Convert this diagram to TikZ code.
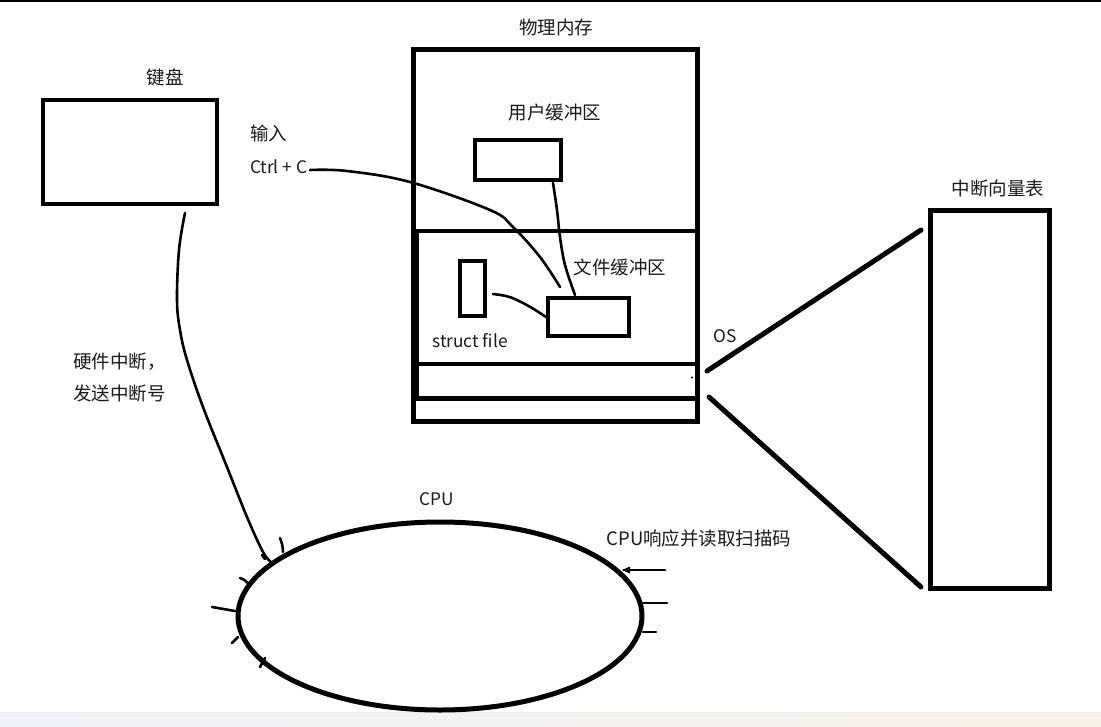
\documentclass[tikz,border=0pt]{standalone}
\usepackage{fontspec}
\setmainfont{Noto Sans CJK SC}
\usetikzlibrary{shapes.geometric}
\definecolor{txt}{HTML}{1A1A1A}
\definecolor{bandL}{RGB}{239,242,250}
\definecolor{bandR}{RGB}{249,241,230}
\tikzset{
  box/.style={draw=black, rectangle, inner sep=0pt, fill=white},
  lbl/.style={text=txt, inner sep=0pt, font=\fontsize{18.5}{22}\selectfont},
  latin/.style={text=txt, inner sep=0pt, font=\fontsize{17.3}{21}\selectfont},
  wire/.style={draw=black, line width=2.6pt, line cap=round, line join=round},
  heavy/.style={draw=black, line width=5pt, line cap=round},
  tick/.style={draw=black, line width=2.6pt, line cap=round},
}
\begin{document}
\begin{tikzpicture}[x=1pt,y=-1pt]
\useasboundingbox (0,0) rectangle (1101,726);
\fill[white] (0,0) rectangle (1101,726);
% top rule and bottom band
\fill[black] (0,0) rectangle (1101,1.8);
\shade[left color=bandL, right color=bandR] (0,712) rectangle (1101,726);
\draw[color=black!8, line width=0.8pt] (0,712.4) -- (1101,712.4);
\draw[color=black!5, line width=0.8pt] (81,715) -- (81,726);

% keyboard
\node[box, line width=4pt, minimum width=174pt, minimum height=104pt] (kb) at (130,152) {};
\node[lbl] (kbl) at (165,77) {键盘};

% physical memory
\node[box, line width=5pt, minimum width=284pt, minimum height=372pt] (mem) at (555,235) {};
\node[lbl] (meml) at (556,27) {物理内存};
\draw[line width=4pt] (mem.west |- 0,231) coordinate (d1w) -- (mem.east |- 0,231) coordinate (d1e);
\draw[line width=4pt] (mem.west |- 0,364) coordinate (d2w) -- (mem.east |- 0,364) coordinate (d2e);
\draw[line width=5pt] (mem.west |- 0,398) coordinate (d3w) -- (mem.east |- 0,398) coordinate (d3e);
\draw[line width=4pt] (417,229) -- (417,400);
\fill[black] (692,377.5) circle (1.2pt);

\node[lbl] (ubl) at (555,112) {用户缓冲区};
\node[box, line width=4pt, minimum width=86pt, minimum height=40pt] (ub) at (518,160) {};
\node[box, line width=4pt, minimum width=25pt, minimum height=55pt] (sf) at (472.5,288.5) {};
\node[latin] (sfl) at (470,341) {struct file};
\node[box, line width=4pt, minimum width=81pt, minimum height=38pt] (fb) at (588.5,317) {};
\node[lbl] (fbl) at (620,267) {文件缓冲区};

% input labels
\node[lbl, anchor=west] (inl) at (250,133) {输入};
\node[latin, anchor=west] (ctl) at (250,167) {Ctrl + C};

% connectors inside memory
\coordinate (c0) at (310,170);
\coordinate (c1) at (560,287);
\draw[wire] plot[smooth, tension=0.6] coordinates {(c0) (347,171) (410,182) (490,210) (513,227) (540,257) (c1)};
\coordinate (u0) at (553,183);
\coordinate (u1) at (575,295);
\draw[wire] plot[smooth, tension=0.6] coordinates {(u0) (557,210) (560,237) (565,265) (u1)};
\coordinate (s0) at (493,294);
\draw[wire] plot[smooth, tension=0.6] coordinates {(s0) (506,296) (517,300) (532,308) (fb.west)};

% interrupt vector table
\node[box, line width=5pt, minimum width=119pt, minimum height=378pt] (ivt) at (989.5,399) {};
\node[lbl] (ivtl) at (998,188) {中断向量表};
\node[latin] (osl) at (725,336) {OS};
\coordinate (t1a) at (707,371);
\coordinate (t1b) at (921,230);
\coordinate (t2a) at (709,397);
\coordinate (t2b) at (921,587);
\draw[heavy] (t1a) -- (t1b);
\draw[heavy] (t2a) -- (t2b);

% CPU
\node[draw=black, ellipse, line width=5pt, inner sep=0pt, minimum width=404pt, minimum height=188pt] (cpu) at (440,616) {};
\node[latin] (cpul) at (437,499) {CPU};
\node[lbl] (cpur) at (699,538) {CPU响应并读取扫描码};

% keyboard -> CPU
\coordinate (k0) at (185,213);
\coordinate (k1) at (272,563);
\draw[wire] plot[smooth, tension=0.6] coordinates {(k0) (179,250) (177,300) (180,330) (187,360) (203,407) (227,467) (247,517) (263,552) (k1)};
\node[lbl, anchor=west] (hw1) at (73,362) {硬件中断，};
\node[lbl, anchor=west] (hw2) at (73,393) {发送中断号};

% ticks around the ellipse
\draw[tick] (280,538) to[bend left=10] (283,552);
\draw[tick] (262,555) -- (265,559);
\draw[tick] (240,578) to[bend left=20] (250,586);
\draw[tick] (212,607) -- (235,611);
\draw[tick] (232,643) -- (238,637);
\draw[tick] (260,667) -- (265,658);
\draw[tick] (624,570) -- (665,570);
\fill[black] (622,570) -- (630,566.5) -- (630,573.5) -- cycle;
\draw[tick] (643,603) -- (667,603);
\draw[tick] (643,632) -- (656,632);
\end{tikzpicture}
\end{document}
